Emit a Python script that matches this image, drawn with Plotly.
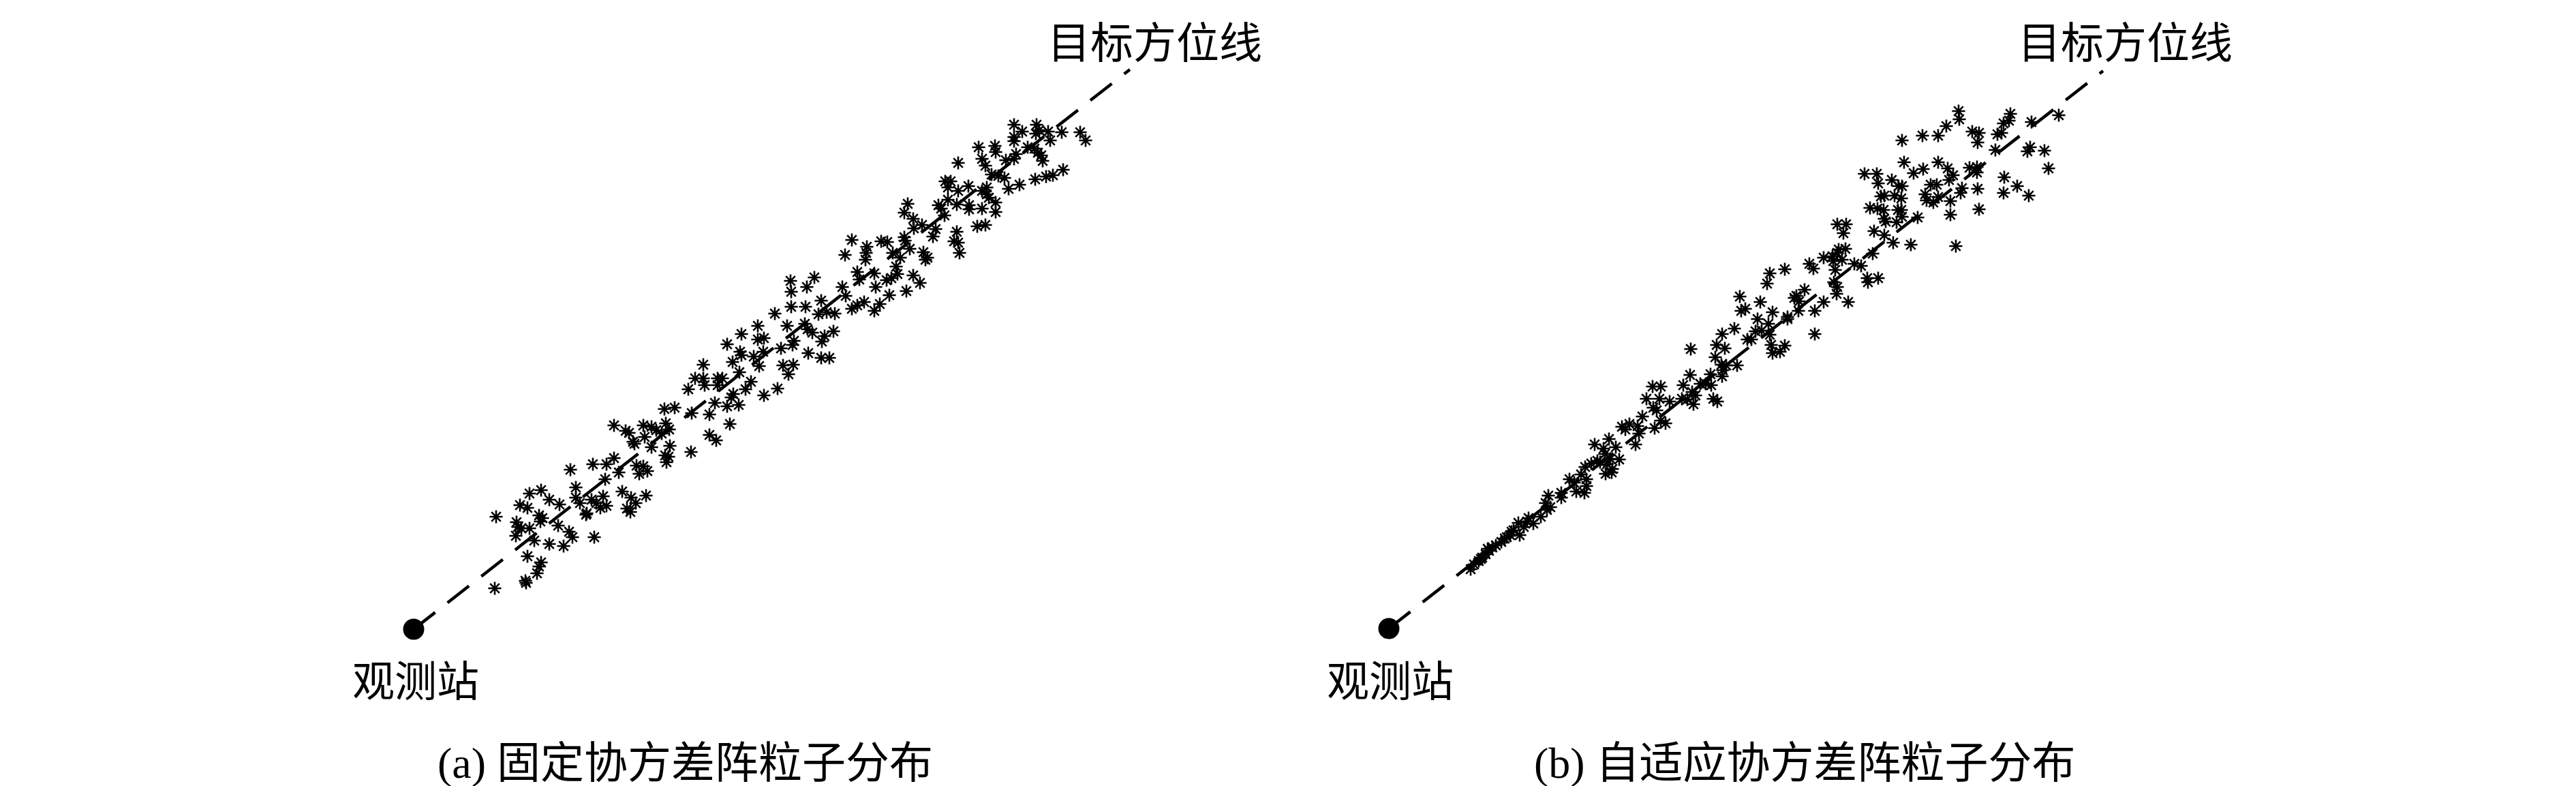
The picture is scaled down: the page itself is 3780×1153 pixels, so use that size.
import plotly.graph_objs as go
from plotly.subplots import make_subplots

# image-pixel coordinates (x to the right, y downwards)

# (a) fixed covariance particles
a_x = [893, 893, 882, 862, 829, 880, 837, 769, 786, 798, 813, 837, 843, 860, 867, 877, 873, 882, 853, 852,
       755, 766, 720, 783, 788, 785, 750, 752, 757, 769, 749, 811, 827, 832, 776, 798, 819, 864, 766, 786,
       783, 780, 763, 764, 718,
       1104, 1080, 1104, 1113, 1059, 1078, 1080, 1098, 1112, 1067, 1106, 1077, 1024, 1012, 1024, 1026, 1045,
       1052, 1045, 1002, 1094, 1086, 1113, 1068, 1065, 1041, 1059, 1076, 967, 982, 1007, 1033, 1063, 936,
       948, 969, 910, 915, 955, 974, 938, 963, 921, 923, 948, 975, 1033, 1043, 968, 973, 970, 1006, 900,
       926, 936, 930, 942, 905, 918, 940, 925, 912, 917,
       1324, 1319, 1332, 1333, 1319, 1320, 1327, 1242, 1285, 1294, 1264, 1263, 1232, 1262, 1302, 1313, 1307,
       1309, 1332, 1250, 1253, 1275, 1293, 1300, 1277, 1297, 1322, 1187, 1152, 1153, 1176, 1228, 1233, 1153,
       1174, 1197, 1129, 1193, 1205, 1217, 1242, 1250, 1260, 1275, 1283, 1147, 1173, 1177, 1184, 1215, 1202,
       1198, 1157, 1155, 1138, 1178, 1197, 1209, 1141, 1156, 1149, 1133,
       1480, 1492, 1513, 1512, 1517, 1530, 1550, 1577, 1585, 1533, 1480, 1480, 1428, 1452, 1453, 1500, 1510,
       1515, 1520, 1522, 1483, 1480, 1468, 1433, 1438, 1398, 1447, 1457, 1466, 1472, 1488, 1511, 1527, 1537,
       1552, 1379, 1387, 1383, 1398, 1413, 1433, 1440, 1440, 1443, 1383, 1396, 1369, 1373, 1414, 1414, 1433,
       1453, 1453, 1378, 1426, 1438, 1345, 1365, 1361, 1396, 1392, 1398, 1400, 1347, 1353, 1350, 1342]
a_y = [616, 664, 673, 673, 681, 695, 707, 716, 711, 725, 732, 722, 730, 725, 730, 720, 737, 734, 745, 747,
       733, 737, 750, 748, 752, 757, 758, 765, 767, 767, 778, 763, 772, 780, 785, 790, 793, 780, 808, 817,
       823, 833, 844, 847, 855,
       470, 482, 490, 488, 497, 508, 513, 515, 508, 523, 529, 538, 527, 547, 547, 557, 547,
       547, 557, 563, 552, 563, 572, 570, 575, 583, 588, 586, 592, 590, 598, 600, 614, 616,
       618, 613, 624, 627, 623, 622, 633, 628, 640, 643, 648, 646, 630, 638, 660, 662, 670, 655, 685,
       675, 676, 687, 683, 713, 722, 719, 730, 738, 743,
       291, 304, 313, 327, 340, 345, 357, 344, 346, 347, 354, 363, 366, 373, 363, 370, 383,
       394, 396, 391, 402, 393, 403, 400, 413, 425, 419, 399, 404, 420, 413, 413, 426, 442,
       442, 433, 452, 453, 450, 452, 445, 440, 435, 448, 438, 470, 467, 475, 480, 478, 485,
       493, 492, 498, 503, 510, 517, 517, 528, 527, 541, 562,
       175, 185, 175, 188, 183, 185, 186, 186, 198, 198, 193, 199, 208, 206, 215, 208, 210,
       216, 220, 228, 218, 225, 227, 225, 235, 231, 248, 250, 253, 269, 263, 255, 251, 249,
       241, 258, 258, 267, 272, 265, 272, 267, 277, 282, 285, 292, 293, 298, 293, 299, 298,
       289, 303, 308, 324, 322, 322, 328, 339, 332, 346, 348, 363, 362, 370, 373, 407]

# (b) adaptive covariance particles
b_x = [2332, 2336, 2327, 2318, 2312, 2320, 2295, 2302, 2305, 2317, 2320, 2283, 2283, 2264, 2260, 2267, 2262,
       2253, 2235, 2242, 2220, 2222, 2213, 2208, 2200, 2195, 2182, 2177, 2172, 2167, 2162, 2155, 2150, 2233,
       2187, 2203, 2175, 2165, 2210, 2228,
       2545, 2547, 2553, 2537, 2519, 2556, 2511, 2523, 2473, 2509, 2518, 2525, 2541, 2520, 2519, 2502, 2472,
       2495, 2503, 2487, 2462, 2417, 2429, 2475, 2480, 2460, 2468, 2477, 2506, 2512, 2408, 2427, 2442, 2418,
       2423, 2402, 2372, 2383, 2377, 2395, 2397, 2420, 2429, 2436, 2353, 2392, 2363, 2345, 2347, 2355, 2368,
       2340, 2350, 2358, 2348, 2357,
       2728, 2746, 2748, 2768, 2778, 2752, 2757, 2772, 2736, 2747, 2756, 2777, 2757, 2759, 2775, 2742, 2757,
       2770, 2688, 2701, 2697, 2700, 2690, 2688, 2681, 2695, 2668, 2682, 2647, 2653, 2685, 2740, 2713, 2723,
       2611, 2589, 2585, 2732, 2733, 2748, 2683, 2688, 2687, 2640, 2628, 2625, 2632, 2575, 2668, 2704, 2631,
       2655, 2593, 2615, 2615, 2571, 2587, 2568, 2577, 2589, 2655, 2591, 2611, 2593, 2604, 2562,
       2866, 2867, 2942, 2940, 2932, 2848, 2973, 3013, 2813, 2836, 2886, 2896, 2894, 2923, 2929, 2783, 2920,
       2971, 2967, 2992, 2998, 2786, 2836, 2814, 2800, 2850, 2858, 2852, 2882, 2893, 2893, 2933, 2952, 2932,
       2969, 2825, 2834, 2871, 2869, 2894, 2783, 2817, 2836, 2819, 2829, 2854, 2854, 2896, 2782, 2782, 2783,
       2806, 2796, 2862]
b_y = [644, 668, 672, 677, 688, 695, 695, 700, 713, 715, 705, 715, 722, 719, 730, 736, 740,
       750, 752, 760, 759, 777, 770, 777, 782, 787, 795, 800, 805, 810, 815, 820, 827, 757,
       792, 780, 797, 812, 772, 765,
       427, 448, 445, 474, 482, 490, 498, 503, 504, 516, 527, 528, 528, 535, 544, 541, 542,
       555, 557, 555, 557, 559, 559, 567, 572, 577, 578, 585, 577, 581, 577, 577, 581, 590,
       594, 603, 618, 614, 622, 617, 628, 620, 609, 613, 636, 644, 648, 650, 658, 665, 666,
       670, 673, 680, 687, 685,
       247, 247, 261, 256, 265, 280, 279, 279, 297, 298, 300, 300, 313, 317, 318, 331, 337,
       348, 321, 321, 334, 357, 358, 363, 368, 373, 370, 375, 379, 386, 388, 364, 379, 382,
       387, 393, 408, 400, 406, 400, 406, 413, 423, 417, 426, 429, 434, 435, 435, 435, 448,
       448, 450, 457, 460, 460, 467, 478, 477, 483, 482, 498, 499, 510, 508, 490,
       155, 167, 159, 169, 173, 177, 171, 161, 191, 191, 185, 187, 201, 189, 187, 198, 212,
       208, 214, 213, 239, 230, 230, 240, 246, 239, 249, 256, 238, 237, 245, 252, 265, 275,
       279, 263, 263, 268, 275, 269, 265, 277, 281, 286, 289, 287, 307, 299, 283, 300, 310,
       311, 351, 353]

# observation station and end of the target bearing line
station_a = [599, 915]
bearing_end_a = [1650, 94]
station_b = [2030, 914]
bearing_end_b = [3078, 96]

W, H = 3780, 1153
CJK = "Noto Sans CJK SC"
CAPTION_FONT = "Liberation Serif, Noto Sans CJK SC"

fig = make_subplots(rows=1, cols=2, horizontal_spacing=0)

panels = [
    (1, station_a, bearing_end_a, a_x, a_y),
    (2, station_b, bearing_end_b, b_x, b_y),
]
for col, st, end, px_, py_ in panels:
    fig.add_trace(go.Scatter(x=[st[0], end[0]], y=[st[1], end[1]], mode='lines',
                             line=dict(color='black', width=4.5, dash='40px,23px'),
                             hoverinfo='skip'), row=1, col=col)
    fig.add_trace(go.Scatter(x=px_, y=py_, mode='markers',
                             marker=dict(symbol='asterisk-open', size=16, color='black',
                                         line=dict(color='black', width=2.6)),
                             hoverinfo='skip'), row=1, col=col)
    fig.add_trace(go.Scatter(x=[st[0]], y=[st[1]], mode='markers',
                             marker=dict(symbol='circle', size=31, color='black'),
                             hoverinfo='skip'), row=1, col=col)

# both panels use the picture's own pixel grid so the line angles match
fig.update_xaxes(range=[0, W / 2], row=1, col=1)
fig.update_xaxes(range=[W / 2, W], row=1, col=2)
fig.update_xaxes(visible=False, showgrid=False, zeroline=False)
fig.update_yaxes(range=[H, 0], visible=False, showgrid=False, zeroline=False)
fig.layout.xaxis.domain = [0, 0.5]
fig.layout.xaxis2.domain = [0.5, 1]

annotations = []
labels = [
    ('x', 'y', 1686, 2, 'top', '目标方位线', CJK, 63),
    ('x', 'y', 602, 987, 'middle', '观测站', CJK, 62),
    ('x', 'y', 997, 1111, 'middle', '(a) 固定协方差阵粒子分布', CAPTION_FONT, 64),
    ('x2', 'y2', 3110, 2, 'top', '目标方位线', CJK, 63),
    ('x2', 'y2', 2032, 987, 'middle', '观测站', CJK, 62),
    ('x2', 'y2', 2640, 1111, 'middle', '(b) 自适应协方差阵粒子分布', CAPTION_FONT, 64),
]
for xr, yr, x, y, ya, txt, fam, sz in labels:
    annotations.append(dict(xref=xr, yref=yr, x=x, y=y, text=txt, showarrow=False,
                            xanchor='center', yanchor=ya,
                            font=dict(family=fam, size=sz, color='black')))

fig.update_layout(
    width=W,
    height=H,
    showlegend=False,
    hovermode=False,
    plot_bgcolor='white',
    paper_bgcolor='white',
    margin=dict(l=0, r=0, t=0, b=0, autoexpand=False),
    annotations=annotations,
)

fig.write_html("out.html")
